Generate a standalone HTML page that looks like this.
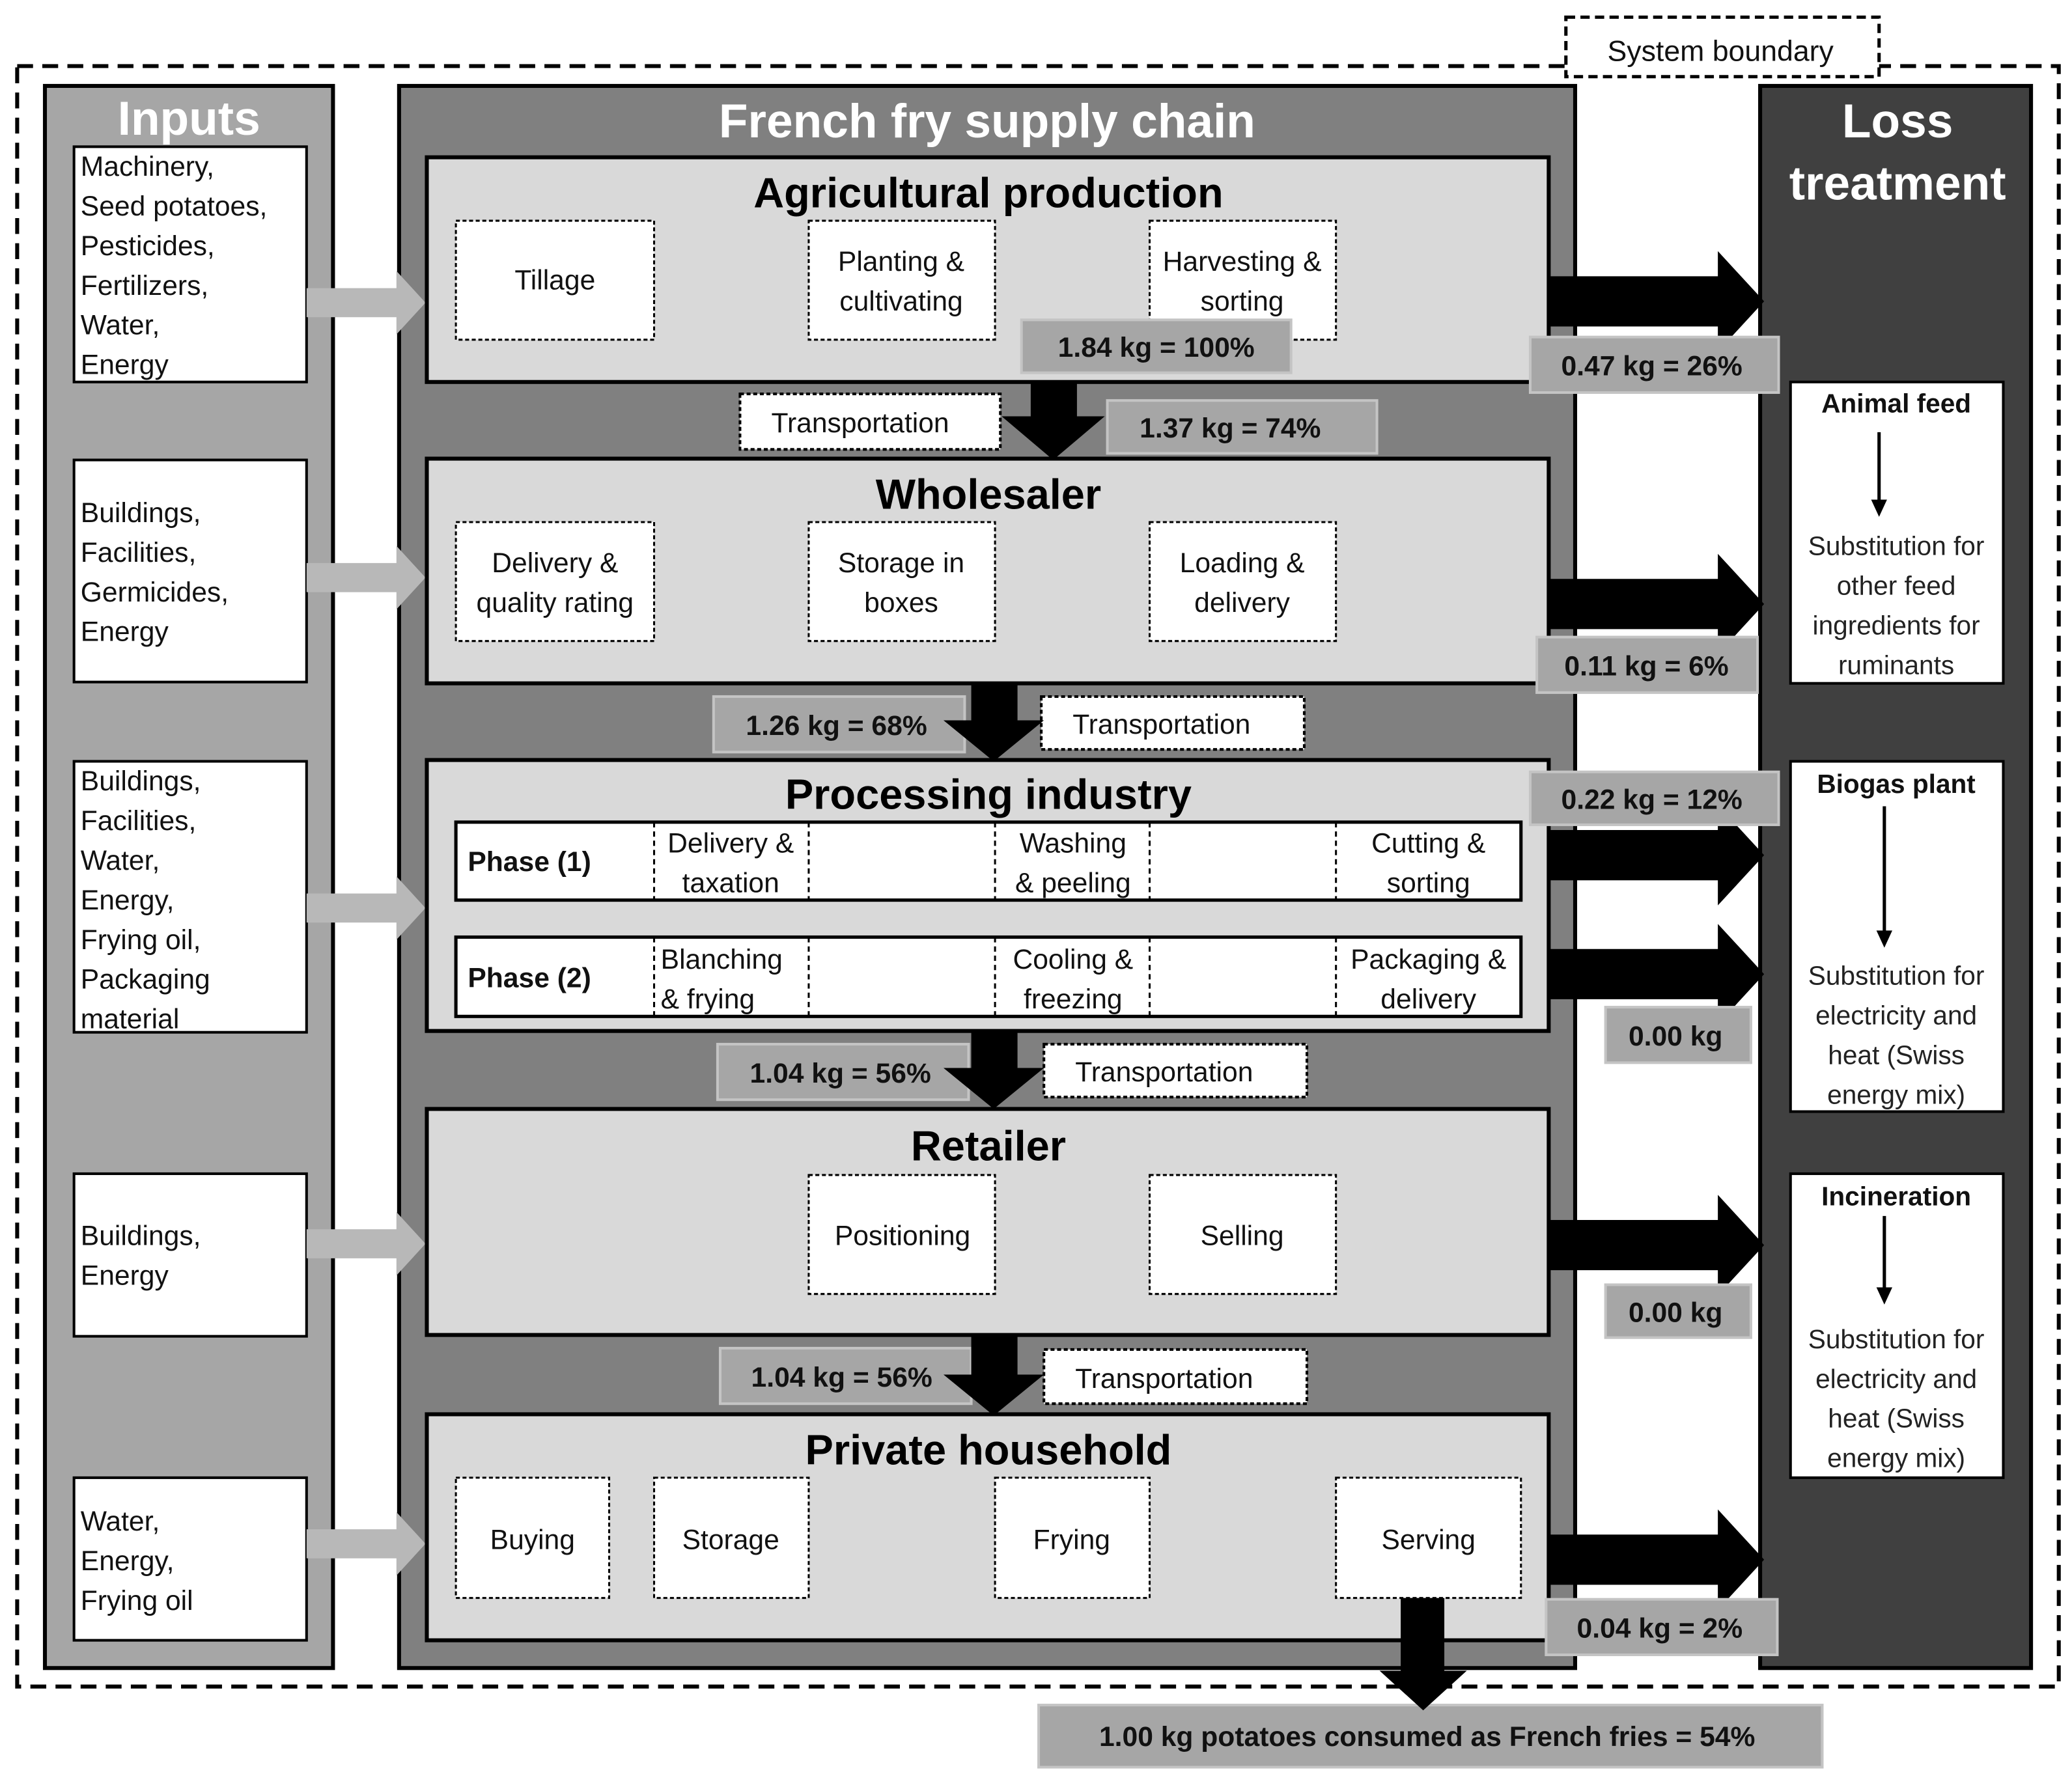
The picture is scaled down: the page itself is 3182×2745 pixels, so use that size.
<!DOCTYPE html>
<html><head><meta charset="utf-8"><style>
html,body{margin:0;padding:0;background:#fff;}
svg{display:block;}
text{font-family:"Liberation Sans",Arial,sans-serif;}
.n{font-size:21px;fill:#111;}
.c{font-size:21px;fill:#111;text-anchor:middle;}
.b{font-size:20px;fill:#111;text-anchor:middle;font-weight:bold;}
.t{font-size:32px;font-weight:bold;text-anchor:middle;fill:#000;}
.w{font-size:36px;font-weight:bold;text-anchor:middle;fill:#fff;}
.l{font-size:20px;fill:#222;text-anchor:middle;}
</style></head><body>
<svg width="3182" height="2745" viewBox="0 0 1568 1352" preserveAspectRatio="none" xmlns="http://www.w3.org/2000/svg">
<rect x="0" y="0" width="1568" height="1352" fill="#fff"/>
<rect x="13" y="50" width="1545" height="1226" fill="none" stroke="#000" stroke-width="3" stroke-dasharray="12,7"/>
<rect x="34" y="65" width="218" height="1197" fill="#a6a6a6" stroke="#000" stroke-width="3"/>
<rect x="302" y="65" width="890" height="1197" fill="#808080" stroke="#000" stroke-width="3"/>
<rect x="1332" y="65" width="205" height="1197" fill="#404040" stroke="#000" stroke-width="3"/>
<rect x="1185" y="13" width="237" height="45" fill="#fff" stroke="#000" stroke-width="2.5" stroke-dasharray="7,4"/>
<text x="1302" y="46" class="c" style="font-size:22px">System boundary</text>
<text x="143" y="102" class="w">Inputs</text>
<text x="747" y="104" class="w">French fry supply chain</text>
<text x="1436" y="104" class="w">Loss</text>
<text x="1436" y="151" class="w">treatment</text>

<g fill="#fff" stroke="#000" stroke-width="2">
<rect x="56" y="111" width="176" height="178"/>
<rect x="56" y="348" width="176" height="168"/>
<rect x="56" y="576" width="176" height="205"/>
<rect x="56" y="888" width="176" height="123"/>
<rect x="56" y="1118" width="176" height="123"/>
</g>
<g class="n">
<text x="61" y="133" class="n">Machinery,</text><text x="61" y="163" class="n">Seed potatoes,</text><text x="61" y="193" class="n">Pesticides,</text><text x="61" y="223" class="n">Fertilizers,</text><text x="61" y="253" class="n">Water,</text><text x="61" y="283" class="n">Energy</text>
<text x="61" y="395" class="n">Buildings,</text><text x="61" y="425" class="n">Facilities,</text><text x="61" y="455" class="n">Germicides,</text><text x="61" y="485" class="n">Energy</text>
<text x="61" y="598" class="n">Buildings,</text><text x="61" y="628" class="n">Facilities,</text><text x="61" y="658" class="n">Water,</text><text x="61" y="688" class="n">Energy,</text><text x="61" y="718" class="n">Frying oil,</text><text x="61" y="748" class="n">Packaging</text><text x="61" y="778" class="n">material</text>
<text x="61" y="942" class="n">Buildings,</text><text x="61" y="972" class="n">Energy</text>
<text x="61" y="1158" class="n">Water,</text><text x="61" y="1188" class="n">Energy,</text><text x="61" y="1218" class="n">Frying oil</text>
</g>
<g fill="#b8b8b8">
<path d="M232,218 h68 v-13 l22,24 l-22,24 v-13 h-68z"/>
<path d="M232,426 h68 v-13 l22,24 l-22,24 v-13 h-68z"/>
<path d="M232,676 h68 v-13 l22,24 l-22,24 v-13 h-68z"/>
<path d="M232,930 h68 v-13 l22,24 l-22,24 v-13 h-68z"/>
<path d="M232,1157 h68 v-13 l22,24 l-22,24 v-13 h-68z"/>
</g>

<g fill="#d9d9d9" stroke="#000" stroke-width="3">
<rect x="323" y="119" width="849" height="170"/>
<rect x="323" y="347" width="849" height="170"/>
<rect x="323" y="575" width="849" height="205"/>
<rect x="323" y="839" width="849" height="171"/>
<rect x="323" y="1070" width="849" height="171"/>
</g>
<text x="748" y="157" class="t">Agricultural production</text>
<text x="748" y="385" class="t">Wholesaler</text>
<text x="748" y="612" class="t">Processing industry</text>
<text x="748" y="878" class="t">Retailer</text>
<text x="748" y="1108" class="t">Private household</text>

<g fill="#fff" stroke="#000" stroke-width="1.5" stroke-dasharray="3,2">
<rect x="345" y="167" width="150" height="90"/><rect x="612" y="167" width="141" height="90"/><rect x="870" y="167" width="141" height="90"/>
<rect x="345" y="395" width="150" height="90"/><rect x="612" y="395" width="141" height="90"/><rect x="870" y="395" width="141" height="90"/>
<rect x="612" y="889" width="141" height="90"/><rect x="870" y="889" width="141" height="90"/>
<rect x="345" y="1118" width="116" height="91"/><rect x="495" y="1118" width="117" height="91"/><rect x="753" y="1118" width="117" height="91"/><rect x="1011" y="1118" width="140" height="91"/>
</g>
<text x="420" y="219" class="c">Tillage</text>
<text x="682" y="205" class="c">Planting &amp;</text><text x="682" y="235" class="c">cultivating</text>
<text x="940" y="205" class="c">Harvesting &amp;</text><text x="940" y="235" class="c">sorting</text>
<text x="420" y="433" class="c">Delivery &amp;</text><text x="420" y="463" class="c">quality rating</text>
<text x="682" y="433" class="c">Storage in</text><text x="682" y="463" class="c">boxes</text>
<text x="940" y="433" class="c">Loading &amp;</text><text x="940" y="463" class="c">delivery</text>
<text x="683" y="942" class="c">Positioning</text>
<text x="940" y="942" class="c">Selling</text>
<text x="403" y="1172" class="c">Buying</text>
<text x="553" y="1172" class="c">Storage</text>
<text x="811" y="1172" class="c">Frying</text>
<text x="1081" y="1172" class="c">Serving</text>

<g fill="#fff" stroke="#000" stroke-width="2.5">
<rect x="345" y="622" width="806" height="59"/>
<rect x="345" y="709" width="806" height="60"/>
</g>
<g stroke="#000" stroke-width="1.5" stroke-dasharray="4,3">
<line x1="495" y1="622" x2="495" y2="681"/><line x1="612" y1="622" x2="612" y2="681"/><line x1="753" y1="622" x2="753" y2="681"/><line x1="870" y1="622" x2="870" y2="681"/><line x1="1011" y1="622" x2="1011" y2="681"/>
<line x1="495" y1="709" x2="495" y2="769"/><line x1="612" y1="709" x2="612" y2="769"/><line x1="753" y1="709" x2="753" y2="769"/><line x1="870" y1="709" x2="870" y2="769"/><line x1="1011" y1="709" x2="1011" y2="769"/>
</g>
<text x="354" y="659" class="n" style="font-weight:bold">Phase (1)</text>
<text x="354" y="747" class="n" style="font-weight:bold">Phase (2)</text>
<text x="553" y="645" class="c">Delivery &amp;</text><text x="553" y="675" class="c">taxation</text>
<text x="812" y="645" class="c">Washing</text><text x="812" y="675" class="c">&amp; peeling</text>
<text x="1081" y="645" class="c">Cutting &amp;</text><text x="1081" y="675" class="c">sorting</text>
<text x="500" y="733" class="n">Blanching</text><text x="500" y="763" class="n">&amp; frying</text>
<text x="812" y="733" class="c">Cooling &amp;</text><text x="812" y="763" class="c">freezing</text>
<text x="1081" y="733" class="c">Packaging &amp;</text><text x="1081" y="763" class="c">delivery</text>

<g fill="#a6a6a6" stroke="#c4c4c4" stroke-width="2">
<rect x="773" y="242" width="204" height="40"/>
<rect x="838" y="303" width="204" height="40"/>
<rect x="540" y="527" width="190" height="42"/>
<rect x="543" y="790" width="190" height="42"/>
<rect x="545" y="1020" width="190" height="42"/>
<rect x="786" y="1290" width="593" height="47"/>
</g>
<g fill="#fff" stroke="#000" stroke-width="2" stroke-dasharray="3,2">
<rect x="560" y="298" width="197" height="42"/>
<rect x="788" y="527" width="199" height="40"/>
<rect x="790" y="790" width="199" height="40"/>
<rect x="790" y="1021" width="199" height="41"/>
</g>
<text x="651" y="327" class="c">Transportation</text>
<text x="879" y="555" class="c">Transportation</text>
<text x="881" y="818" class="c">Transportation</text>
<text x="881" y="1050" class="c">Transportation</text>
<g fill="#000">
<path d="M780,289 h35 v26 h21 l-39,33 l-39,-33 h22z"/>
<path d="M735,517 h35 v28 h20 l-38,31 l-38,-31 h21z"/>
<path d="M735,780 h35 v28 h20 l-38,31 l-38,-31 h21z"/>
<path d="M735,1010 h35 v30 h20 l-38,31 l-38,-31 h21z"/>
<path d="M1060,1209 h33 v55 h17 l-33,30 l-33,-30 h16z"/>
</g>
<g style="font-weight:bold;font-size:21px;fill:#111;text-anchor:middle">
<text x="875" y="270">1.84 kg = 100%</text>
<text x="931" y="331">1.37 kg = 74%</text>
<text x="633" y="556">1.26 kg = 68%</text>
<text x="636" y="819">1.04 kg = 56%</text>
<text x="637" y="1049">1.04 kg = 56%</text>
<text x="1080" y="1321">1.00 kg potatoes consumed as French fries = 54%</text>
</g>

<g fill="#000">
<path d="M1172,209 h128 v-19 l35,38 l-35,38 v-19 h-128z"/>
<path d="M1172,438 h128 v-19 l35,38 l-35,38 v-19 h-128z"/>
<path d="M1172,628 h128 v-19 l35,38 l-35,38 v-19 h-128z"/>
<path d="M1172,718 h128 v-19 l35,38 l-35,38 v-19 h-128z"/>
<path d="M1172,923 h128 v-19 l35,38 l-35,38 v-19 h-128z"/>
<path d="M1172,1161 h128 v-19 l35,38 l-35,38 v-19 h-128z"/>
</g>
<g fill="#a6a6a6" stroke="#c4c4c4" stroke-width="2">
<rect x="1158" y="255" width="188" height="42"/>
<rect x="1163" y="482" width="167" height="42"/>
<rect x="1158" y="584" width="188" height="40"/>
<rect x="1215" y="762" width="110" height="42"/>
<rect x="1215" y="972" width="110" height="40"/>
<rect x="1170" y="1210" width="175" height="42"/>
</g>
<g style="font-weight:bold;font-size:21px;fill:#111;text-anchor:middle">
<text x="1250" y="284">0.47 kg = 26%</text>
<text x="1246" y="511">0.11 kg = 6%</text>
<text x="1250" y="612">0.22 kg = 12%</text>
<text x="1268" y="791">0.00 kg</text>
<text x="1268" y="1000">0.00 kg</text>
<text x="1256" y="1239">0.04 kg = 2%</text>
</g>

<g fill="#fff" stroke="#000" stroke-width="2">
<rect x="1355" y="289" width="161" height="228"/>
<rect x="1355" y="576" width="161" height="265"/>
<rect x="1355" y="888" width="161" height="230"/>
</g>
<g stroke="#000" stroke-width="2.5">
<line x1="1422" y1="327" x2="1422" y2="380"/>
<line x1="1426" y1="610" x2="1426" y2="706"/>
<line x1="1426" y1="920" x2="1426" y2="976"/>
</g>
<g fill="#000">
<path d="M1416,378 h12 l-6,13z"/>
<path d="M1420,704 h12 l-6,13z"/>
<path d="M1420,974 h12 l-6,13z"/>
</g>
<text x="1435" y="312" class="b">Animal feed</text>
<text x="1435" y="420" class="l">Substitution for</text><text x="1435" y="450" class="l">other feed</text><text x="1435" y="480" class="l">ingredients for</text><text x="1435" y="510" class="l">ruminants</text>
<text x="1435" y="600" class="b">Biogas plant</text>
<text x="1435" y="745" class="l">Substitution for</text><text x="1435" y="775" class="l">electricity and</text><text x="1435" y="805" class="l">heat (Swiss</text><text x="1435" y="835" class="l">energy mix)</text>
<text x="1435" y="912" class="b">Incineration</text>
<text x="1435" y="1020" class="l">Substitution for</text><text x="1435" y="1050" class="l">electricity and</text><text x="1435" y="1080" class="l">heat (Swiss</text><text x="1435" y="1110" class="l">energy mix)</text>
</svg>
</body></html>
